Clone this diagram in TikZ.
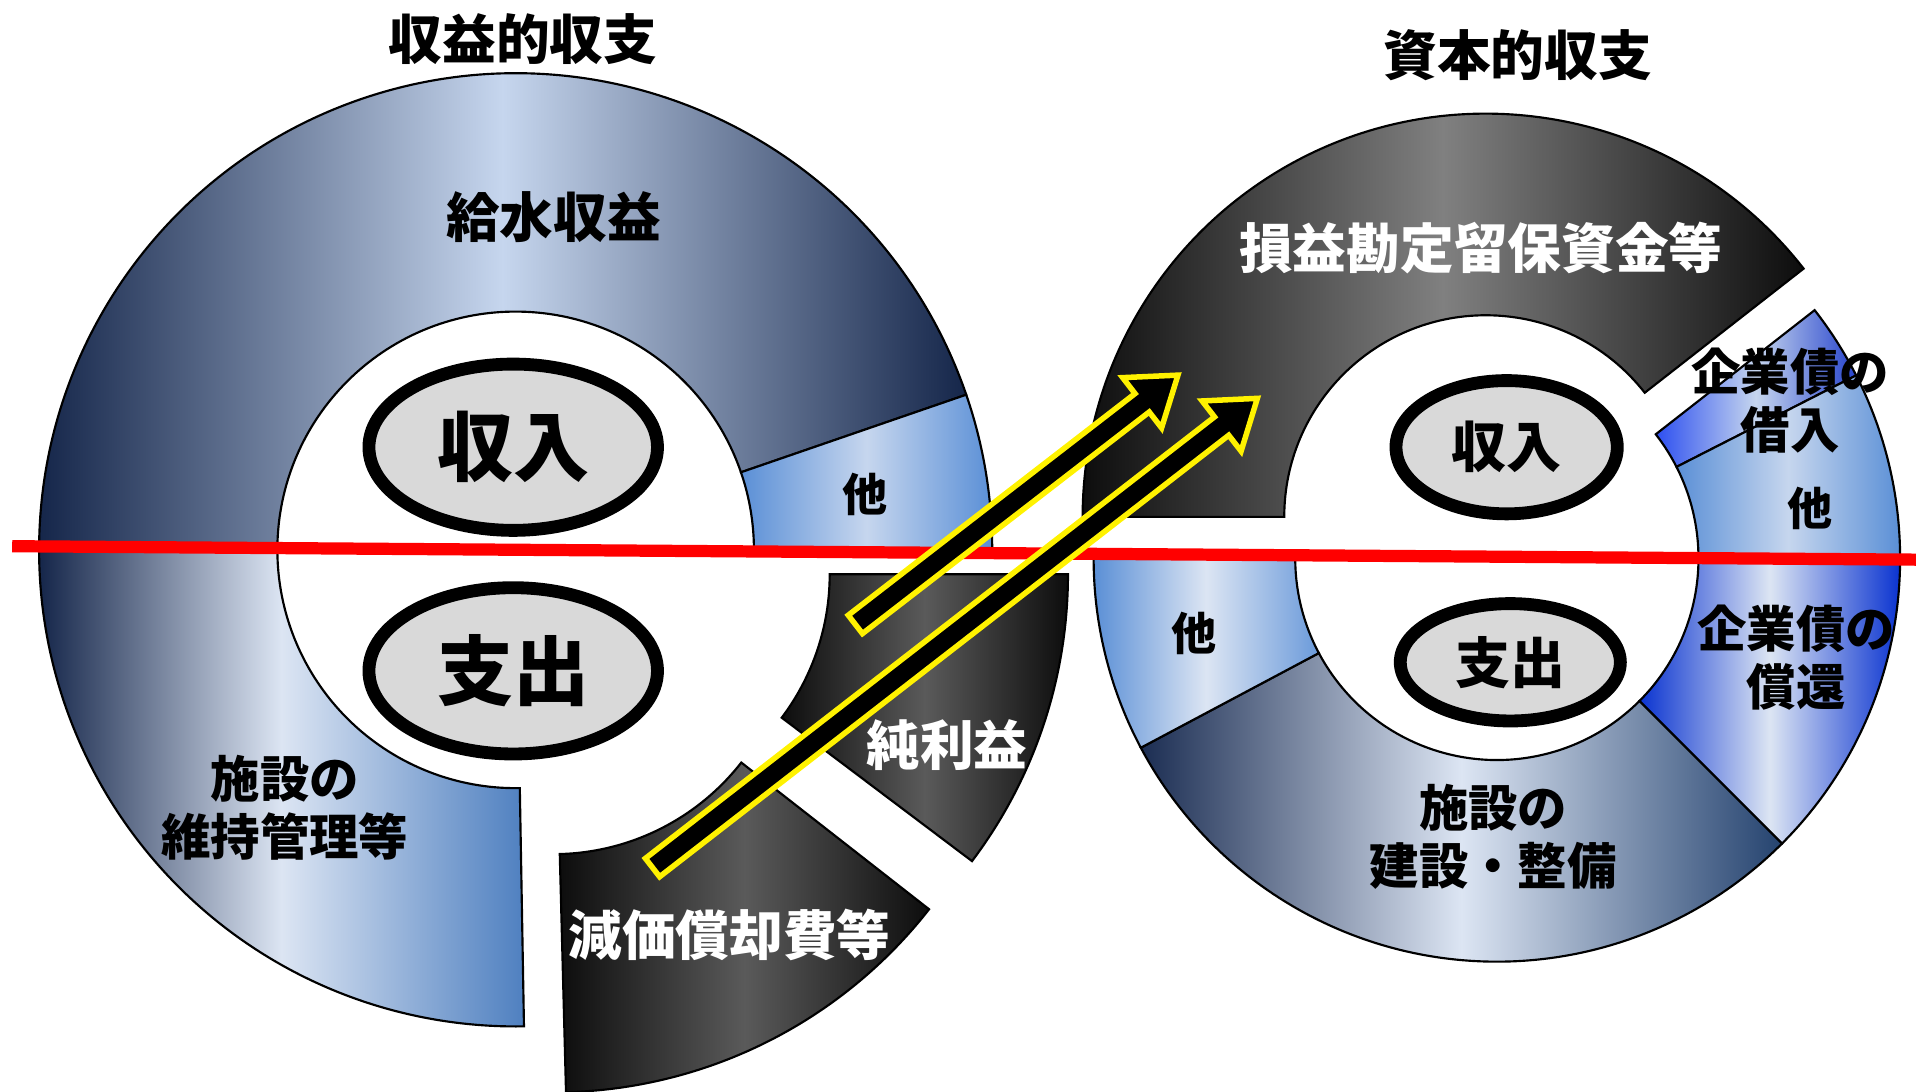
\documentclass[tikz,border=0pt]{standalone}
\usepackage{fontspec}
\setmainfont{Noto Sans CJK JP}
\usetikzlibrary{calc,shapes.geometric}

\definecolor{ringnavy}{HTML}{15264A}
\definecolor{ringpale}{HTML}{C6D6EE}
\definecolor{ringlight}{HTML}{DCE5F3}
\definecolor{ringsteel}{HTML}{4F80C0}
\definecolor{ringblue}{HTML}{5A8FD6}
\definecolor{bondblue}{HTML}{0A33D0}
\definecolor{loanblue}{HTML}{2D4FF0}
\definecolor{buildnavy}{HTML}{1B2D52}
\definecolor{buildright}{HTML}{25436F}
\definecolor{segblack}{HTML}{0D0D0D}
\definecolor{seggray}{HTML}{5A5A5A}
\definecolor{seggrayR}{HTML}{808080}
\definecolor{ovalgray}{HTML}{D9D9D9}

\tikzset{
  seg/.style={draw=black, line width=0.5pt},
  waterseg/.style={seg, left color=ringnavy, right color=ringnavy, middle color=ringpale},
  otherseg/.style={seg, left color=ringblue, right color=ringblue, middle color=ringpale},
  upkeepseg/.style={seg, left color=ringnavy, right color=ringsteel, middle color=ringlight},
  blackseg/.style={seg, left color=segblack, right color=segblack, middle color=seggray},
  reserveseg/.style={seg, left color=segblack, right color=segblack, middle color=seggrayR},
  loanseg/.style={seg, left color=loanblue, right color=loanblue!85!black, middle color=ringpale},
  bondseg/.style={seg, left color=bondblue, right color=bondblue, middle color=ringlight},
  buildseg/.style={seg, left color=buildnavy, right color=buildright, middle color=ringlight},
  lowotherseg/.style={seg, left color=ringblue, right color=ringblue!90!white, middle color=ringlight},
  oval/.style={ellipse, draw=black, line width=0.105cm, fill=ovalgray, inner sep=0pt},
  lbl/.style={font=\bfseries\fontsize{12.5}{15}\selectfont, align=center, inner sep=0pt},
  lbltwo/.style={font=\bfseries\fontsize{11.5}{13.4}\selectfont, align=center, inner sep=0pt},
  lblother/.style={font=\bfseries\fontsize{10.5}{12}\selectfont, inner sep=0pt},
  divider/.style={red, line width=0.1cm},
  fatarrow/.style={draw=yellow, fill=black, line width=0.045cm, line join=miter},
}

% ring piece: style, centre, from, to, inner r, outer r
\newcommand{\ringpart}[6]{%
  \path[#1] ($(#2)+(#3:#6)$) arc[start angle=#3, end angle=#4, radius=#6]
    -- ($(#2)+(#4:#5)$) arc[start angle=#4, end angle=#3, radius=#5] -- cycle;}

% block arrow from tail to tip
\newcommand{\fatarrow}[2]{%
  \draw[fatarrow] ($(#1)!0.095cm!90:(#2)$)
    -- ($(#2)!0.37cm!(#1)!0.095cm!-90:(#1)$)
    -- ($(#2)!0.37cm!(#1)!0.26cm!-90:(#1)$)
    -- (#2)
    -- ($(#2)!0.37cm!(#1)!0.26cm!90:(#1)$)
    -- ($(#2)!0.37cm!(#1)!0.095cm!90:(#1)$)
    -- ($(#1)!0.095cm!-90:(#2)$) -- cycle;}

\begin{document}
\begin{tikzpicture}[x=0.01cm, y=0.01cm]
  \useasboundingbox (0,0) rectangle (1568,893);

  % centres
  \coordinate (cL) at (422,443);
  \coordinate (cLdep) at ($(cL)+(31,-54)$);
  \coordinate (cLnet) at ($(cL)+(62,-20)$);
  \coordinate (cR) at (1225,436);
  \coordinate (cRres) at ($(cR)+(-9,34)$);

  % revenue account ring
  \ringpart{waterseg}{cL}{19}{180}{195}{390}
  \ringpart{otherseg}{cL}{0}{19}{195}{390}
  \ringpart{upkeepseg}{cL}{180}{271}{195}{390}
  \ringpart{blackseg}{cLdep}{271.5}{322}{195}{390}
  \ringpart{blackseg}{cLnet}{323}{360}{195}{390}

  % capital account ring
  \ringpart{reserveseg}{cRres}{38}{180}{165}{330}
  \ringpart{loanseg}{cR}{27}{38}{165}{330}
  \ringpart{otherseg}{cR}{0}{27}{165}{330}
  \ringpart{bondseg}{cR}{-45}{0}{165}{330}
  \ringpart{buildseg}{cR}{208}{315}{165}{330}
  \ringpart{lowotherseg}{cR}{180}{208}{165}{330}

  \node (incL) [oval, minimum width=2.36cm, minimum height=1.36cm,
    font=\bfseries\fontsize{17.7}{20}\selectfont] at (420,527) {収入};
  \node (expL) [oval, minimum width=2.36cm, minimum height=1.36cm,
    font=\bfseries\fontsize{17.7}{20}\selectfont] at (420,344) {支出};
  \node (incR) [oval, minimum width=1.81cm, minimum height=1.09cm,
    font=\bfseries\fontsize{12.8}{15}\selectfont] at (1233,527) {収入};
  \node (expR) [oval, minimum width=1.80cm, minimum height=0.96cm,
    font=\bfseries\fontsize{12.8}{15}\selectfont] at (1236,351) {支出};

  \node (titleL) [lbl] at (428,861) {収益的収支};
  \node (titleR) [lbl] at (1242,848) {資本的収支};

  \node (water) [lbl] at (453,715) {給水収益};
  \node (otherL) [lblother] at (708,488) {他};
  \node (upkeep) [lbltwo] at (233,232) {施設の\\維持管理等};
  \node (netinc) [lbl, text=white] at (775,283) {純利益};
  \node (deprec) [lbl, text=white] at (597,128) {減価償却費等};

  \node (reserve) [lbl, text=white] at (1212,690) {損益勘定留保資金等};
  \node (loan) [lbltwo] at (1465,565) {企業債の\\借入};
  \node (otherR) [lblother] at (1481,477) {他};
  \node (bond) [lbltwo] at (1470,355) {企業債の\\償還};
  \node (otherLow) [lblother] at (977,375) {他};
  \node (build) [lbltwo] at (1222,208) {施設の\\建設・整備};

  % dividing line
  \coordinate (redL) at (10,446);
  \coordinate (redR) at (1568,435);
  \draw[divider] (redL) -- (redR);

  % transfers to capital account
  \coordinate (netTail) at (700,382);
  \coordinate (netTip) at (964,586);
  \coordinate (depTail) at (534,183);
  \coordinate (depTip) at (1029,567);
  \fatarrow{netTail}{netTip}
  \fatarrow{depTail}{depTip}
\end{tikzpicture}
\end{document}
